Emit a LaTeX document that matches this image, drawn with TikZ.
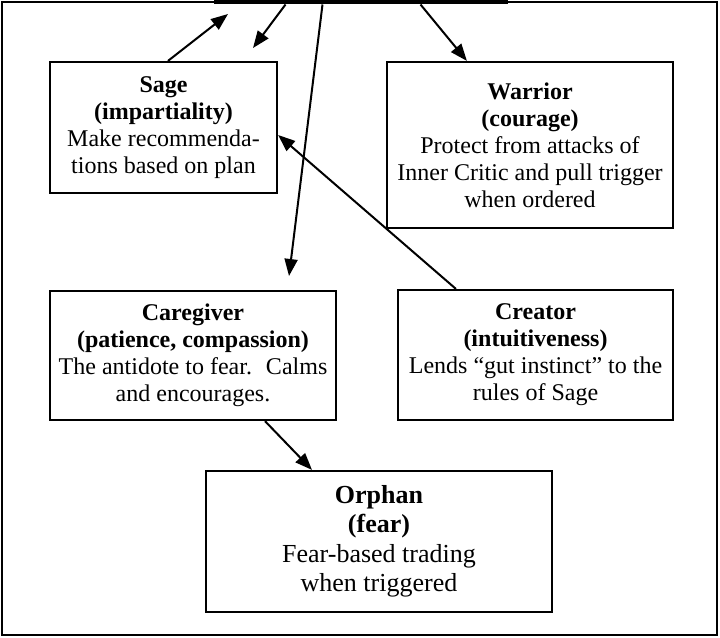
\documentclass[tikz,border=0pt]{standalone}
\usepackage{fontspec}
\setmainfont{Liberation Serif}
\usetikzlibrary{arrows.meta}
\begin{document}
\begin{tikzpicture}[x=1bp,y=-1bp,
  box/.style={draw,line width=2.2bp,inner sep=0pt,align=center,
    font=\fontsize{24bp}{27bp}\selectfont},
  bigbox/.style={box,font=\fontsize{26bp}{29.5bp}\selectfont},
  conn/.style={line width=2bp,-{Triangle[length=17bp,width=13bp]}}]
\useasboundingbox (0,0) rectangle (720,638);
\clip (0,0) rectangle (720,638);
% outer frame
\draw[line width=2bp] (2,2) rectangle (717,635);
% cut-off top box
\node[box,line width=5bp,minimum width=289bp,minimum height=84bp] (top) at (360.5,-40) {};
% boxes
\node[box,minimum width=227bp,minimum height=131bp] (sage) at (163.5,127.5)
  {\textbf{Sage}\\\textbf{(impartiality)}\\Make recommenda-\\tions based on plan};
\node[box,minimum width=286bp,minimum height=166bp] (warrior) at (530,145)
  {\textbf{Warrior}\\\textbf{(courage)}\\Protect from attacks of\\Inner Critic and pull trigger\\when ordered};
\node[box,minimum width=286bp,minimum height=129bp] (care) at (193,355.5)
  {\textbf{Caregiver}\\\textbf{(patience, compassion)}\\The antidote to fear.~ Calms\\and encourages.};
\node[box,minimum width=275bp,minimum height=130bp] (creator) at (535.5,355)
  {\textbf{Creator}\\\textbf{(intuitiveness)}\\Lends “gut instinct” to the\\rules of Sage};
\node[bigbox,minimum width=346bp,minimum height=141bp] (orphan) at (379,541.5)
  {\textbf{Orphan}\\\textbf{(fear)}\\Fear-based trading\\when triggered};
% free ends
\coordinate (aend) at (228,14);
\coordinate (bend) at (253,48);
\coordinate (cend) at (289,276);
% connectors
\draw[conn] ([xshift=4.5bp]sage.north) -- (aend);
\draw[conn] ([xshift=72bp]top.south west) -- (bend);
\draw[conn] ([xshift=109bp]top.south west) -- (cend);
\draw[conn] ([xshift=207bp]top.south west) -- ([xshift=81bp]warrior.north west);
\draw[conn] ([xshift=59bp]creator.north west) -- ([yshift=-7.5bp]sage.east);
\draw[conn] ([xshift=72bp]care.south) -- ([xshift=-67bp]orphan.north);
\end{tikzpicture}
\end{document}
